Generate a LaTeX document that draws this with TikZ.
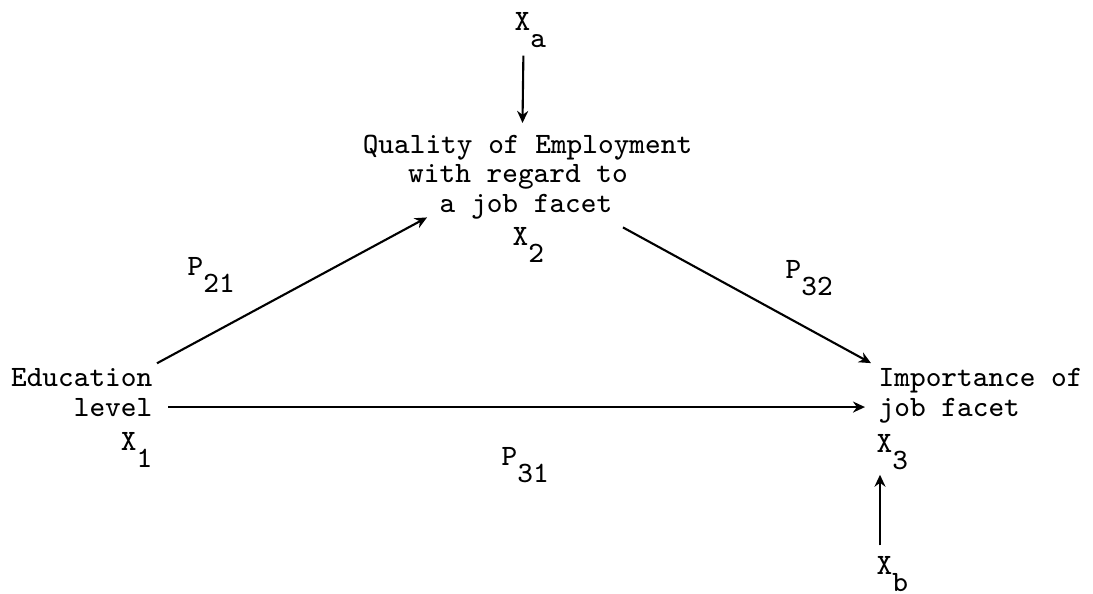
\documentclass[tikz,border=0pt]{standalone}
\usepackage{fontspec}
\usetikzlibrary{arrows.meta}
\newcommand{\lowsub}[1]{\raisebox{-0.6em}{#1}}

\begin{document}
\begin{tikzpicture}[x=0.01cm, y=-0.01cm,
    lbl/.style={inner sep=0pt, font=\ttfamily\fontsize{8.4}{10}\selectfont},
    arr/.style={-{Stealth[length=1.2mm,width=1.1mm]}, line width=0.6pt}]
  \useasboundingbox (0,0) rectangle (1093,593);

  % quality of employment (X_2) with its outside cause X_a
  \node[lbl, anchor=base west] (xa) at (514, 30) {X\lowsub{a}};
  \node[lbl, anchor=base] (q1) at (527.5, 153) {Quality of Employment};
  \node[lbl, anchor=base] (q2) at (518, 182) {with regard to};
  \node[lbl, anchor=base] (q3) at (526, 212) {a job facet};
  \node[lbl, anchor=base west] (x2) at (512, 245) {X\lowsub{2}};

  % education level (X_1)
  \node[lbl, anchor=base east] (e1) at (153, 386) {Education};
  \node[lbl, anchor=base east] (e2) at (153, 416) {level};
  \node[lbl, anchor=base east] (x1) at (153, 450) {X\lowsub{1}};

  % importance of job facet (X_3) with its outside cause X_b
  \node[lbl, anchor=base west] (i1) at (878, 386) {Importance of};
  \node[lbl, anchor=base west] (i2) at (878, 416) {job facet};
  \node[lbl, anchor=base west] (x3) at (876, 452) {X\lowsub{3}};
  \node[lbl, anchor=base west] (xb) at (876, 574) {X\lowsub{b}};

  % path coefficients
  \node[lbl, anchor=base west] (p21) at (187, 275) {P\lowsub{21}};
  \node[lbl, anchor=base west] (p32) at (785, 278) {P\lowsub{32}};
  \node[lbl, anchor=base west] (p31) at (501, 465) {P\lowsub{31}};

  \draw[arr] ([shift={(-7,7)}]xa.south) -- ([shift={(-5,-11)}]q1.north);
  \draw[arr] ([shift={(4,-4)}]e1.north east) -- ([shift={(-12,-2)}]q3.south west);
  \draw[arr] ([shift={(10,8)}]q3.south east) -- ([shift={(-7,-4)}]i1.north west);
  \draw[arr, shorten <=0.15cm, shorten >=0.13cm] (e2.east) -- (e2.east -| i2.west);
  \draw[arr] ([shift={(4,-10)}]xb.north west) -- ([shift={(4,4)}]x3.south west);
\end{tikzpicture}
\end{document}
